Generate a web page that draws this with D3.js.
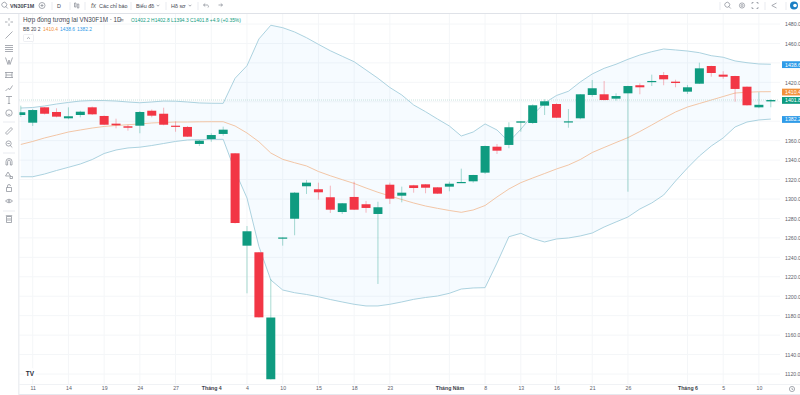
<!DOCTYPE html>
<html>
  <head>
    <meta charset="utf-8">
    <title>VN30F1M</title>
    <style>
      html, body { margin: 0; padding: 0; background: white; overflow: hidden; }
      svg { display: block; font-family: "Liberation Sans", Arial, sans-serif; }
      .grid line { stroke: #f4f6f8; stroke-width: 1; }
      .axis path, .axis line { display: none; }
      .axis text { fill: #5c606a; font-size: 5.2px; font-family: "Liberation Sans", Arial, sans-serif; }
      .icon { fill: none; stroke: #858994; stroke-width: 0.7; }
      .sep { stroke: #e9ebf0; stroke-width: 1; }
      .menu { fill: #444852; font-size: 5.4px; }
    </style>
  </head>
  <body>
    <svg width="800" height="395"></svg>
    <script src="https://d3js.org/d3.v7.min.js"></script>
    <script type="application/javascript">
      // one entry per session
      const opens = [1386.4,1378.5,1394.3,1389.5,1383.0,1386.4,1394.3,1385.4,1377.5,1374.8,1375.4,1390.8,1387.7,1375.4,1374.1,1356.6,1361.7,1366.9,1347.0,1252.0,1245.2,1114.6,1259.6,1279.7,1313.1,1310.0,1301.8,1286.6,1302.1,1294.6,1284.6,1314.7,1303.4,1314.1,1315.1,1312.0,1312.7,1316.8,1318.2,1327.1,1353.8,1355.6,1378.5,1378.2,1396.0,1397.7,1378.7,1383.0,1407.0,1407.7,1403.2,1408.7,1417.0,1420.7,1427.5,1420.7,1410.4,1418.6,1436.8,1427.9,1426.5,1415.5,1394.3,1400.4];
      const highs = [1396.0,1392.6,1394.6,1393.3,1394.3,1390.8,1395.1,1385.9,1382.6,1376.4,1390.5,1392.1,1393.9,1379.9,1375.1,1360.7,1367.6,1374.4,1347.3,1272.2,1245.5,1217.4,1260.6,1307.2,1319.6,1316.8,1313.7,1295.9,1317.8,1298.0,1297.2,1316.8,1312.7,1314.6,1315.4,1312.3,1317.8,1331.2,1324.9,1355.0,1356.6,1378.9,1380.2,1397.4,1402.6,1398.4,1392.6,1408.0,1422.4,1421.4,1408.7,1416.5,1419.0,1427.9,1430.6,1422.7,1417.3,1440.2,1437.1,1431.4,1426.8,1415.8,1409.8,1402.8];
      const lows = [1384.3,1375.1,1386.9,1384.0,1382.0,1384.0,1386.4,1376.1,1372.7,1370.3,1367.6,1384.0,1375.8,1369.2,1363.8,1354.5,1358.9,1365.1,1274.8,1203.0,1178.1,1114.4,1252.0,1262.7,1305.2,1299.3,1285.6,1284.6,1288.7,1285.9,1212.6,1294.9,1296.6,1306.5,1305.9,1305.2,1307.9,1316.5,1316.8,1325.7,1346.3,1352.2,1369.2,1377.2,1386.4,1383.3,1373.3,1382.0,1405.2,1401.5,1401.1,1307.5,1407.7,1416.2,1417.0,1414.9,1408.0,1418.3,1425.8,1423.7,1400.1,1396.1,1393.3,1394.3];
      const closes = [1389.2,1391.5,1387.7,1384.7,1385.1,1389.8,1387.1,1376.4,1375.8,1373.3,1389.5,1385.7,1376.4,1374.4,1364.1,1360.0,1365.8,1371.3,1275.3,1266.8,1178.3,1178.1,1260.4,1306.5,1316.8,1306.9,1289.0,1295.6,1289.0,1290.8,1291.5,1300.3,1306.5,1311.3,1311.6,1305.5,1315.7,1317.5,1324.7,1354.5,1349.7,1373.8,1379.9,1396.4,1400.5,1383.6,1379.9,1407.7,1413.9,1401.8,1405.9,1416.2,1414.9,1421.4,1423.1,1419.3,1414.9,1434.4,1429.6,1425.8,1413.2,1396.4,1396.9,1401.8];

      const bbUpper = [1393.6,1394.1,1395.7,1397.7,1399.3,1400.8,1401.3,1401.3,1400.8,1399.8,1399.0,1399.8,1400.8,1400.6,1399.8,1398.8,1398.5,1398.4,1424.2,1437.1,1464.6,1478.7,1476.2,1471.8,1465.9,1459.1,1452.5,1446.8,1441.2,1432.7,1424.2,1414.7,1407.0,1396.7,1389.8,1382.3,1375.1,1364.8,1368.9,1377.2,1371.0,1358.9,1371.7,1386.4,1398.8,1406.5,1410.8,1420.4,1428.6,1434.4,1438.6,1443.7,1448.1,1451.5,1454.3,1453.3,1452.2,1450.5,1447.4,1445.8,1442.0,1440.2,1438.9,1438.6];
      const bbBasis = [1356.1,1359.2,1362.8,1365.8,1368.9,1371.0,1373.0,1374.6,1375.6,1376.4,1377.2,1378.2,1378.7,1379.2,1379.2,1379.4,1379.5,1379.5,1375.1,1367.9,1358.9,1347.3,1340.8,1337.3,1334.0,1328.3,1323.9,1319.9,1316.0,1311.3,1306.9,1303.1,1299.5,1295.9,1292.8,1290.4,1288.2,1286.3,1288.7,1293.3,1302.1,1310.3,1316.8,1321.6,1326.2,1330.9,1335.0,1340.6,1347.8,1353.0,1358.1,1363.1,1369.4,1376.1,1383.0,1389.5,1394.6,1398.2,1401.8,1405.4,1409.0,1409.8,1410.3,1410.4];
      const bbLower = [1322.9,1322.9,1325.7,1329.3,1332.6,1336.0,1340.6,1346.8,1350.4,1352.5,1353.3,1355.0,1357.1,1359.2,1360.7,1361.0,1361.2,1361.4,1328.8,1301.0,1251.2,1216.7,1206.4,1203.6,1201.8,1199.5,1196.6,1194.1,1191.7,1190.0,1190.0,1191.7,1194.1,1196.8,1198.7,1200.2,1203.0,1207.4,1208.5,1208.8,1234.2,1261.2,1264.7,1259.4,1255.8,1258.9,1259.9,1262.0,1265.0,1271.2,1276.4,1281.5,1289.7,1295.9,1304.1,1318.5,1331.9,1344.2,1354.5,1362.8,1374.1,1379.2,1381.3,1382.2];

      const priceTicks = [1480,1460,1420,1360,1340,1320,1300,1280,1260,1240,1220,1200,1180,1160,1140,1120];
      const gridPrices = d3.range(1120, 1481, 20);
      const timeTicks = [1,4,7,10,13,16,19,22,25,28,31,36,39,42,45,48,51,56,59,62];
      const timeLabels = ['11','14','19','24','27','Tháng 4','4','10','15','18','23','Tháng Năm','8','13','16','21','26','Tháng 6','5','10'];

      const svg = d3.select('svg');
      const x = d3.scaleLinear().domain([0, 63]).range([20.8, 770.8]);
      const y = d3.scaleLinear().domain([1120, 1480]).range([374, 24]);
      const green = '#0f9b80', red = '#f23645';
      const idx = d3.range(opens.length);

      svg.append('clipPath').attr('id', 'plot').append('rect')
        .attr('x', 19).attr('y', 14).attr('width', 760).attr('height', 366);

      const grid = svg.append('g').attr('class', 'grid');
      grid.selectAll('.v').data(timeTicks).enter().append('line')
        .attr('x1', d => x(d)).attr('x2', d => x(d)).attr('y1', 14).attr('y2', 384);
      grid.selectAll('.h').data(gridPrices).enter().append('line')
        .attr('x1', 19).attr('x2', 780).attr('y1', d => y(d)).attr('y2', d => y(d));

      const plot = svg.append('g').attr('clip-path', 'url(#plot)');

      // bollinger bands
      plot.append('path').datum(idx)
        .attr('fill', '#2196f3').attr('opacity', 0.04)
        .attr('d', d3.area().x(i => x(i)).y0(i => y(bbLower[i])).y1(i => y(bbUpper[i])));
      [[bbUpper, '#a3cddb'], [bbLower, '#a3cddb'], [bbBasis, '#f2c09c']].forEach(([vals, color]) => {
        plot.append('path').datum(idx)
          .attr('fill', 'none').attr('stroke', color).attr('stroke-width', 0.9)
          .attr('d', d3.line().x(i => x(i)).y(i => y(vals[i])));
      });

      // last price line
      plot.append('line')
        .attr('x1', 19).attr('x2', 779)
        .attr('y1', y(closes[63])).attr('y2', y(closes[63]))
        .attr('stroke', '#bcdcd6').attr('stroke-width', 0.8).attr('stroke-dasharray', '1 1');

      // candles
      const candleColor = i => closes[i] >= opens[i] ? green : red;
      plot.selectAll('.wick').data(idx).enter().append('line')
        .attr('x1', i => x(i)).attr('x2', i => x(i))
        .attr('y1', i => y(highs[i])).attr('y2', i => y(lows[i]))
        .attr('stroke', candleColor).attr('stroke-opacity', 0.45).attr('stroke-width', 0.8);
      plot.selectAll('.body').data(idx).enter().append('rect')
        .attr('x', i => x(i) - 4.5).attr('width', 9)
        .attr('y', i => y(Math.max(opens[i], closes[i])))
        .attr('height', i => Math.max(1.2, Math.abs(y(opens[i]) - y(closes[i]))))
        .attr('fill', candleColor);

      // axes
      const axisY = svg.append('g').attr('class', 'axis').attr('transform', 'translate(779,0)')
        .call(d3.axisRight(y).tickValues(priceTicks).tickSize(0).tickPadding(6).tickFormat(d3.format('.1f')));
      axisY.selectAll('text').attr('dy', '0.35em');
      const axisX = svg.append('g').attr('class', 'axis').attr('transform', 'translate(0,385)')
        .call(d3.axisBottom(x).tickValues(timeTicks).tickSize(0).tickPadding(1.5)
          .tickFormat(d => timeLabels[timeTicks.indexOf(d)]));
      axisX.selectAll('text').filter(d => timeLabels[timeTicks.indexOf(d)].startsWith('Tháng'))
        .attr('font-weight', 'bold').style('fill', '#3a3e49');

      // price tags
      const tags = [[1438.6, '#2f9be8'], [1410.4, '#f2913a'], [1401.8, green], [1382.2, '#2f9be8']];
      tags.forEach(([v, c]) => {
        svg.append('rect').attr('x', 782).attr('y', y(v) - 3).attr('width', 18).attr('height', 6.8).attr('fill', c);
        svg.append('text').attr('x', 785).attr('y', y(v) + 2.4)
          .attr('fill', 'white').attr('font-size', 5.2).text(d3.format('.1f')(v));
      });

      // chrome
      svg.append('line').attr('x1', 0).attr('x2', 800).attr('y1', 13.5).attr('y2', 13.5).attr('stroke', '#dfe2e8');
      svg.append('rect').attr('x', 18).attr('y', 14).attr('width', 1.5).attr('height', 381).attr('fill', '#eef0f3');
      svg.append('line').attr('x1', 19).attr('x2', 800).attr('y1', 384.5).attr('y2', 384.5).attr('stroke', '#f0f2f5');
      svg.append('line').attr('x1', 19).attr('x2', 800).attr('y1', 394.5).attr('y2', 394.5).attr('stroke', '#e6e8ee');

      [52, 70, 85, 131, 166, 198, 720, 765, 786].forEach(px => {
        svg.append('line').attr('class', 'sep').attr('x1', px).attr('x2', px).attr('y1', 2).attr('y2', 10);
      });
      [122, 153, 211].forEach(py => {
        svg.append('line').attr('class', 'sep').attr('x1', 3).attr('x2', 15).attr('y1', py).attr('y2', py);
      });

      const menus = [[10, 'VN30F1M', 'bold'], [57, 'D', 'normal'], [99, 'Các chỉ báo', 'normal'],
        [136, 'Biểu đồ', 'normal'], [171, 'Hồ sơ', 'normal']];
      menus.forEach(([px, t, w]) => {
        svg.append('text').attr('class', 'menu').attr('x', px).attr('y', 7.5).attr('font-weight', w).text(t);
      });
      svg.append('text').attr('x', 91).attr('y', 7.8).attr('font-size', 6.5).attr('font-style', 'italic').attr('fill', '#666').text('fx');

      // toolbar icons, path around a centre point
      const glass = 'M-2.5-2.5a2 2 0 1 0 3.5 3.5a2 2 0 1 0-3.5-3.5M0.6 0.8L2.8 3';
      const topIcons = [
        [5, 5.5, glass],
        [42, 5.5, 'M-3 0a3 3 0 1 0 6 0a3 3 0 1 0-6 0M-1.5 0H1.5M0-1.5V1.5'],
        [76.5, 5.5, 'M-2-2.5h1.5v4h-1.5zM0.8-1.5h1.5v4h-1.5z'],
        [158, 5.5, 'M-1.3-0.7L0 0.7L1.3-0.7'],
        [190, 5.5, 'M-1.3-0.7L0 0.7L1.3-0.7'],
        [206, 5.5, 'M-2.5-0.5L-0.8-2M-2.5-0.5L-0.8 1M-2.5-0.5H1.5A1.5 1.5 0 0 1 2 2'],
        [220, 5.5, 'M2.5-0.5L0.8-2M2.5-0.5L0.8 1M2.5-0.5H-1.5'],
        [728, 5.5, glass],
        [742, 5.5, 'M-2.6 0a2.6 2.6 0 1 0 5.2 0a2.6 2.6 0 1 0-5.2 0M-1 0a1 1 0 1 0 2 0a1 1 0 1 0-2 0'],
        [755, 5.5, 'M-3-1.5V-3H-1.5M1.5-3H3V-1.5M3 1.5V3H1.5M-1.5 3H-3V1.5'],
        [774, 5.5, 'M2.5-2.5L-2.2 0L2.5 2.5'],
        [792, 389, 'M-2.6 0a2.6 2.6 0 1 0 5.2 0a2.6 2.6 0 1 0-5.2 0M0-1.2V0.4H1.2']
      ];
      const sideIcons = [
        [22, 'M0-4V-1.5M0 1.5V4M-4 0H-1.5M1.5 0H4'],
        [35, 'M-3.5 3.5L3.5-3.5'],
        [48, 'M-4-2.5H4M-4-0.5H4M-4 1.5H4M-4 3.5H4'],
        [61, 'M-3.5-3.5L-1 3.5L0-1L1 3.5L3.5-3.5'],
        [75, 'M-4-2.5H4M-3 0H3M-4 2.5H4M-3-2.5V2.5M3-2.5V2.5'],
        [88, 'M-3.5 3L-1 0.5L1 1.5L3.5-2.5'],
        [100, 'M-3-3.5H3M0-3.5V3.5M-1.2 3.5H1.2'],
        [113, 'M-3.2 0a3.2 3.2 0 1 0 6.4 0a3.2 3.2 0 1 0-6.4 0M-1 0.8a1 1 0 0 0 2 0'],
        [131, 'M-3.5 2L2-3.5L3.5-2L-2 3.5z'],
        [144, 'M-3 -0.5a2.6 2.6 0 1 0 5.2 0a2.6 2.6 0 1 0-5.2 0M1.2 1.5L3.3 3.5M-1.6-0.5H0.8'],
        [162, 'M-3 3V-0.5a3 3 0 0 1 6 0V3H1.4V-0.5a1.4 1.4 0 0 0-2.8 0V3z'],
        [175, 'M-3.5 1L-1-3L1.5 1zM1 1.5h2.5v2h-2.5z'],
        [188, 'M-2.5-0.5h5v4h-5zM-1.5-0.5V-2a1.5 1.5 0 0 1 3 0'],
        [201, 'M-3.5 0Q0-3.5 3.5 0Q0 3.5-3.5 0M-1 0a1 1 0 1 0 2 0a1 1 0 1 0-2 0'],
        [219, 'M-2.5-2.5h5v6h-5zM-3.2-3.3H3.2M-1-1V2M1-1V2']
      ];
      topIcons.forEach(([cx, cy, d]) => {
        svg.append('path').attr('class', 'icon').attr('transform', `translate(${cx},${cy})`).attr('d', d);
      });
      sideIcons.forEach(([cy, d]) => {
        svg.append('path').attr('class', 'icon').attr('transform', `translate(9,${cy})`).attr('d', d);
      });

      // logo top right
      svg.append('circle').attr('cx', 794).attr('cy', 5.5).attr('r', 4).attr('fill', '#1b7fc4');
      svg.append('circle').attr('cx', 795).attr('cy', 5.5).attr('r', 1.8).attr('fill', 'white');

      // legend
      svg.append('text').attr('x', 23).attr('y', 21.5).attr('font-size', 6.3).attr('fill', '#444852')
        .text('Hợp đồng tương lai VN30F1M · 1D');
      svg.append('path').attr('class', 'icon').attr('d', 'M119.5 19.5h4M119.5 20.8h4');
      svg.append('text').attr('x', 131).attr('y', 21.5).attr('font-size', 4.9).attr('fill', green)
        .text('O1402.2 H1402.8 L1394.3 C1401.8 +4.9 (+0.35%)');
      const bbLegend = [[23, 'BB 20 2', '#444852'], [43, '1410.4', '#f2913a'], [60, '1438.6', '#2f9be8'], [77, '1382.2', '#2f9be8']];
      bbLegend.forEach(([px, t, c]) => {
        svg.append('text').attr('x', px).attr('y', 30.5).attr('font-size', 4.9).attr('fill', c).text(t);
      });
      svg.append('rect').attr('x', 23.5).attr('y', 34.5).attr('width', 10).attr('height', 7).attr('rx', 1)
        .attr('fill', 'white').attr('stroke', '#e6e8ee').attr('stroke-width', 0.7);
      svg.append('path').attr('class', 'icon').attr('d', 'M27 38.8L28.5 37.4L30 38.8');

      // watermark badge
      svg.append('circle').attr('cx', 30).attr('cy', 373.5).attr('r', 6).attr('fill', 'white');
      svg.append('text').attr('x', 30).attr('y', 375.8).attr('text-anchor', 'middle')
        .attr('font-size', 6.5).attr('font-weight', 'bold').attr('fill', '#2a2e39').text('TV');
    </script>
  </body>
</html>
